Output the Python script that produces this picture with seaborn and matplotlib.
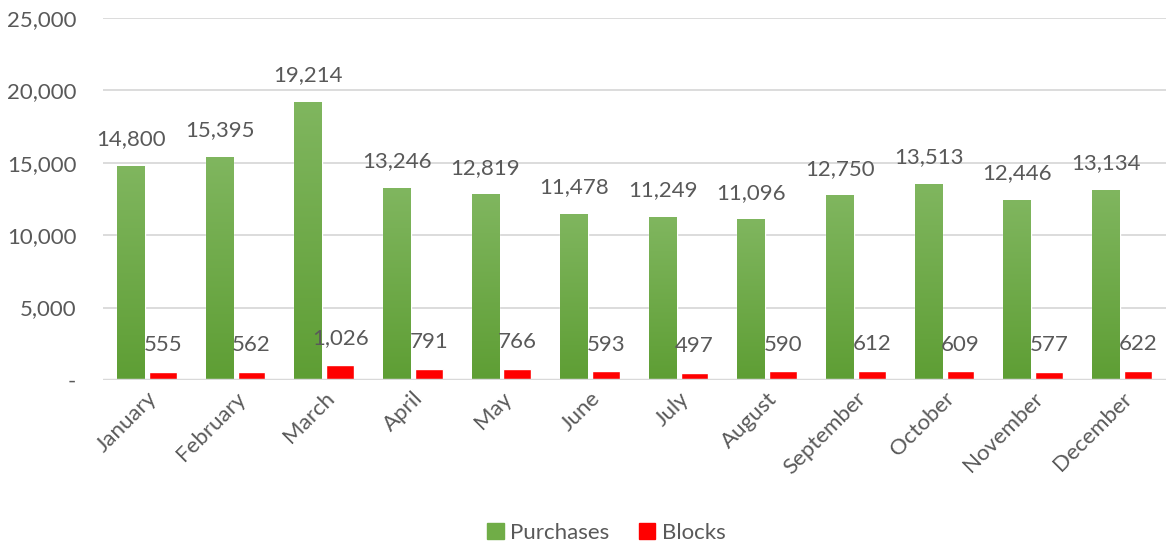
import matplotlib
matplotlib.use('Agg')
import matplotlib.pyplot as plt
import matplotlib.ticker as mticker
import numpy as np
import pandas as pd
import seaborn as sns

months = ['January', 'February', 'March', 'April', 'May', 'June', 'July',
          'August', 'September', 'October', 'November', 'December']
purchases = [14800, 15395, 19214, 13246, 12819, 11478, 11249, 11096, 12750, 13513, 12446, 13134]
blocks = [555, 562, 1026, 791, 766, 593, 497, 590, 612, 609, 577, 622]
series = ['Purchases', 'Blocks']
colors = {'Purchases': '#70AD47', 'Blocks': '#FF0000'}

TEXT = '#595959'
FS = 16


def main():
  df = pd.DataFrame({
    'month': months * 2,
    'value': purchases + blocks,
    'series': ['Purchases'] * len(months) + ['Blocks'] * len(months),
  })

  sns.set_style('white')
  plt.rcParams['font.family'] = ['Lato', 'DejaVu Sans']

  fig = plt.figure(figsize=(11.66, 5.41), dpi=100)
  ax = fig.add_axes([0.088, 0.2976, 0.912, 0.6694])

  sns.barplot(data=df, x='month', y='value', hue='series', hue_order=series,
              palette=colors, width=0.72, gap=0.13, ax=ax, legend=False,
              saturation=1, zorder=3)

  # green vertical gradient like the original
  grad = np.linspace(0, 1, 256).reshape(-1, 1)
  cmap = matplotlib.colors.LinearSegmentedColormap.from_list('g', ['#5E9E34', '#80B65F'])
  for p in ax.containers[0]:
    x0, y0 = p.get_x(), p.get_y()
    w, h = p.get_width(), p.get_height()
    im = ax.imshow(grad, cmap=cmap, aspect='auto', origin='lower',
                   extent=[x0, x0 + w, y0, y0 + h], zorder=3.5)
    im.set_clip_path(p)

  for c in ax.containers:
    txts = ax.bar_label(c, labels=[f'{v:,.0f}' for v in c.datavalues], padding=12,
                        fontsize=FS, color=TEXT)
    for t in txts:
      t.set_zorder(6)

  ax.set_ylim(0, 25000)
  ax.set_xlim(-0.5, len(months) - 0.5)
  ax.yaxis.set_major_locator(mticker.MultipleLocator(5000))
  ax.yaxis.set_major_formatter(mticker.FuncFormatter(lambda v, _: '-' if v == 0 else f'{v:,.0f}'))
  ax.grid(axis='y', color='#D9D9D9', linewidth=1.3, zorder=0)
  ax.axhline(0, color='#D9D9D9', linewidth=2.5, zorder=4)
  for s in ax.spines.values():
    s.set_visible(False)
  ax.tick_params(axis='y', length=0, pad=19, labelsize=FS, labelcolor=TEXT)
  ax.tick_params(axis='x', length=0, pad=6, labelsize=FS, labelcolor=TEXT)
  plt.setp(ax.get_xticklabels(), rotation=45, ha='right', rotation_mode='anchor')
  ax.set_xlabel('')
  ax.set_ylabel('')

  handles = [matplotlib.patches.Patch(color=colors[s], label=s) for s in series]
  fig.legend(handles=handles, loc='lower center', ncol=2, frameon=False,
             bbox_to_anchor=(0.52, -0.04), fontsize=FS, labelcolor=TEXT,
             handlelength=0.75, handleheight=0.75, handletextpad=0.3, columnspacing=1.3)

  plt.savefig('out.png', dpi=100)


if __name__ == "__main__":
  main()
